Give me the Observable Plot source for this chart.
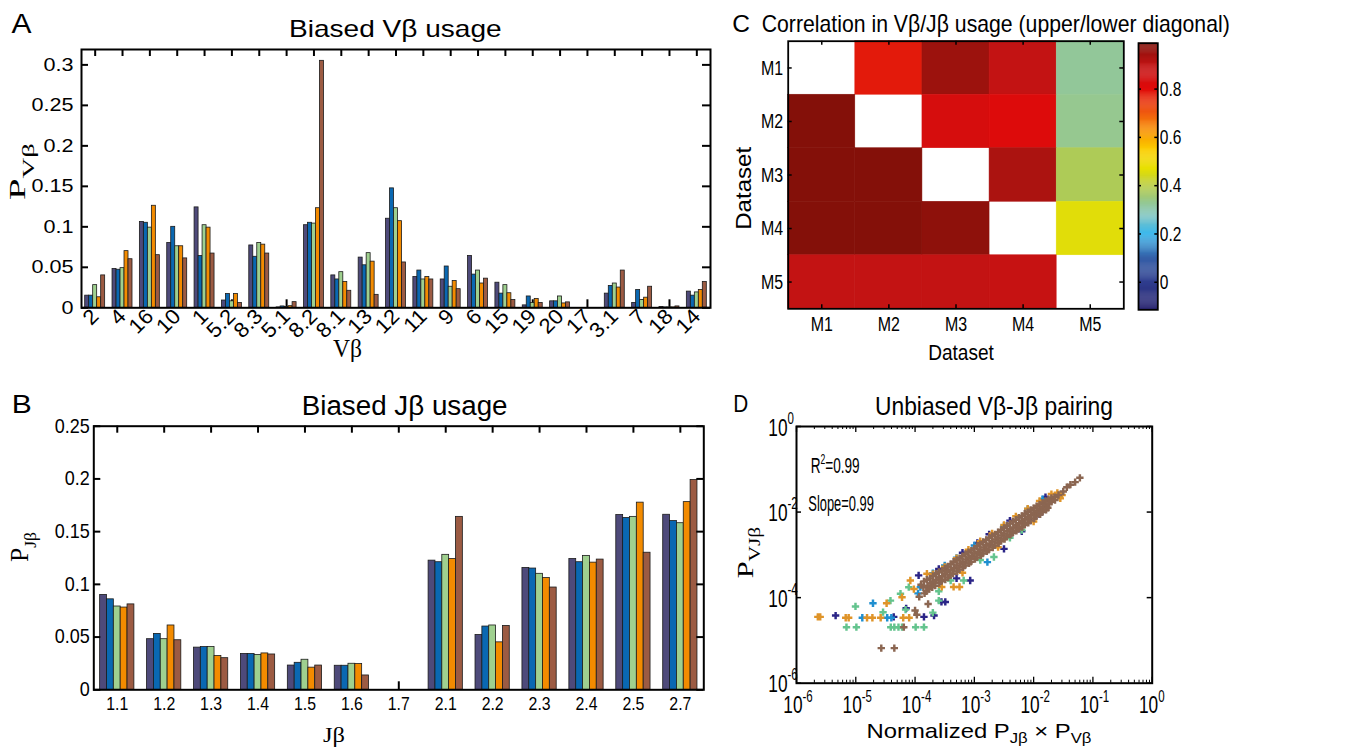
<!DOCTYPE html>
<html><head><meta charset="utf-8">
<script src="https://cdn.jsdelivr.net/npm/d3@7"></script>
<script src="https://cdn.jsdelivr.net/npm/@observablehq/plot@0.6"></script>
<style>
body{margin:0;background:#fff;}
#fig{position:relative;width:1361px;height:752px;overflow:hidden;background:#fff;}
#fig > svg{position:absolute;}
</style></head><body><div id="fig"></div>
<script>
// ---------------- DATA ----------------
const seriesNames = ["M1","M2","M3","M4","M5"];
const barColors = ["#4e4a7a","#0a68b2","#9fd08f","#f38b00","#9c5b43"];

// Panel A: V-beta usage
const vCats = ["2","4","16","10","1","5.2","8.3","5.1","8.2","8.1","13","12","11","9","6","15","19","20","17","3.1","7","18","14"];
const vM1 = [0.015,0.048,0.106,0.080,0.124,0.009,0.077,0.0005,0.102,0.040,0.062,0.110,0.038,0.035,0.064,0.031,0.003,0.008,0,0.0175,0.006,0.001,0.020];
const vM2 = [0.015,0.047,0.105,0.100,0.064,0.017,0.063,0.0017,0.105,0.035,0.0525,0.1475,0.046,0.051,0.041,0.0175,0.014,0.008,0,0.027,0.022,0.0005,0.015];
const vM3 = [0.028,0.049,0.099,0.076,0.102,0.008,0.080,0.001,0.104,0.044,0.0675,0.123,0.035,0.026,0.046,0.028,0.006,0.014,0,0.030,0.0096,0.0005,0.019];
const vM4 = [0.013,0.070,0.126,0.076,0.099,0.017,0.078,0.002,0.123,0.032,0.057,0.107,0.038,0.033,0.030,0.018,0.011,0.0054,0,0.025,0.0125,0.0005,0.022];
const vM5 = [0.040,0.060,0.065,0.061,0.067,0.006,0.067,0.007,0.305,0.021,0.016,0.056,0.035,0.023,0.036,0.0096,0.006,0.0067,0,0.046,0.026,0.0017,0.032];
const yTicksA = [0,0.05,0.1,0.15,0.2,0.25,0.3];

// Panel B: J-beta usage
const jCats = ["1.1","1.2","1.3","1.4","1.5","1.6","1.7","2.1","2.2","2.3","2.4","2.5","2.7"];
const jM1 = [0.090,0.048,0.040,0.034,0.023,0.0228,0,0.1225,0.052,0.1156,0.124,0.1657,0.166];
const jM2 = [0.0858,0.053,0.0405,0.034,0.0256,0.0228,0,0.121,0.060,0.115,0.121,0.163,0.160];
const jM3 = [0.079,0.048,0.0405,0.033,0.0285,0.0247,0,0.128,0.061,0.110,0.127,0.164,0.158];
const jM4 = [0.078,0.061,0.032,0.0345,0.021,0.0244,0,0.124,0.045,0.106,0.1206,0.1775,0.178];
const jM5 = [0.081,0.047,0.030,0.0335,0.023,0.0136,0,0.164,0.0606,0.097,0.1235,0.130,0.199];
const yTicksB = [0,0.05,0.1,0.15,0.2,0.25];

// Panel C: correlation matrix (rows top->bottom, cols left->right)
const datasets = ["M1","M2","M3","M4","M5"];
const corrM1 = [null,0.78,0.95,0.89,0.32];
const corrM2 = [0.985,null,0.83,0.81,0.33];
const corrM3 = [0.985,0.985,null,0.93,0.38];
const corrM4 = [0.985,0.985,0.97,null,0.46];
const corrM5 = [0.89,0.89,0.89,0.88,null];
const cbTicks = [0,0.2,0.4,0.6,0.8];
const cmapStops  = [-0.114,0,0.1,0.2,0.27,0.33,0.4,0.47,0.55,0.62,0.7,0.8,0.9,0.99];
const cmapColors = ["#27226e","#2f3d8e","#3560a8","#3bb8ec","#7cc4c4","#96c890","#b8cc40","#e8e000","#fbcc00","#f89600","#f05a10","#e00a0a","#c01414","#801008"];

// Panel D: log10(normalized PJ x PV), log10(PVJ)
const dM1 = [[-5.34,-4.42],[-4.36,-4.45],[-4.15,-4.25],[-3.94,-3.48],[-3.85,-4.45],[-3.68,-4.42],[-3.555,-4.1],[-3.49,-4.1],[-3.07,-3.6],[-2.5,-2.86],[-2.05,-2.2],[-3.6,-3.33],[-3.2,-2.95],[-2.95,-2.72],[-2.75,-2.52],[-2.4,-2.2],[-2.2,-2.45],[-3.3,-3.55],[-1.9,-2.05],[-1.8,-1.65]];
const dM2 = [[-4.89,-4.47],[-4.71,-4.13],[-4.47,-4.47],[-4.4,-4.47],[-3.91,-3.755],[-3.95,-3.9],[-2.78,-3.17],[-3.5,-3.25],[-3.3,-3.07],[-3.0,-2.78],[-2.5,-2.32],[-2.1,-1.93],[-1.85,-1.7],[-3.7,-3.43]];
const dM3 = [[-5.157,-4.69],[-5.005,-4.205],[-4.99,-4.69],[-4.54,-4.34],[-4.415,-4.07],[-4.41,-4.69],[-4.35,-4.69],[-4.28,-4.69],[-4.22,-4.69],[-4.246,-3.91],[-4.16,-4.28],[-4.106,-3.755],[-3.99,-4.69],[-3.85,-4.69],[-3.6,-4.07],[-3.18,-3.6],[-2.67,-3.05],[-3.4,-3.6],[-2.9,-3.12],[-2.4,-2.6],[-2.2,-2.42],[-3.6,-3.85],[-3.7,-4.35]];
const dM4 = [[-5.64,-4.45],[-5.6,-4.45],[-5.17,-4.47],[-5.12,-4.47],[-4.81,-4.47],[-4.72,-4.47],[-4.58,-4.47],[-4.48,-4.13],[-4.22,-3.99],[-4.2,-4.47],[-4.1,-4.47],[-4.08,-3.6],[-4.02,-3.8],[-3.8,-3.44],[-3.35,-3.75],[-3.25,-3.75],
  [-3.7,-3.45],[-3.5,-3.28],[-3.3,-3.08],[-3.1,-2.88],[-2.9,-2.68],[-2.7,-2.5],[-2.5,-2.3],[-2.3,-2.1],[-2.1,-1.92],[-1.9,-1.74],[-1.7,-1.58],[-1.6,-1.55],[-1.52,-1.6],[-1.55,-1.68],[-3.2,-3.42],[-2.6,-2.82],[-2.0,-2.22],[-3.55,-3.75]];
const dM5 = [[-4.57,-5.18],[-4.35,-5.18],[-4.19,-4.69],[-4.0,-4.3],[-3.93,-3.98],[-3.97,-4.4],[-3.78,-4.15],[-3.9,-3.7],
  [-3.85,-3.62],[-3.86,-3.76],[-3.84,-3.9],[-3.8,-3.58],[-3.79,-3.72],[-3.81,-3.85],[-3.75,-3.55],[-3.74,-3.67],[-3.76,-3.8],
  [-3.7,-3.5],[-3.7,-3.63],[-3.71,-3.76],[-3.65,-3.44],[-3.64,-3.58],[-3.66,-3.72],[-3.6,-3.4],[-3.6,-3.53],[-3.59,-3.66],
  [-3.55,-3.37],[-3.54,-3.5],[-3.56,-3.62],[-3.5,-3.32],[-3.5,-3.45],[-3.49,-3.58],[-3.45,-3.27],[-3.46,-3.4],[-3.44,-3.53],
  [-3.4,-3.22],[-3.4,-3.35],[-3.41,-3.48],[-3.35,-3.16],[-3.34,-3.3],[-3.36,-3.44],[-3.3,-3.12],[-3.3,-3.25],[-3.29,-3.39],
  [-3.25,-3.08],[-3.24,-3.2],[-3.26,-3.34],[-3.2,-3.03],[-3.2,-3.16],[-3.19,-3.29],[-3.15,-2.98],[-3.14,-3.11],[-3.16,-3.25],
  [-3.1,-2.94],[-3.1,-3.07],[-3.09,-3.2],[-3.05,-2.9],[-3.04,-3.02],[-3.06,-3.16],[-3.0,-2.85],[-3.0,-2.97],[-2.99,-3.1],
  [-2.95,-2.8],[-2.94,-2.93],[-2.96,-3.06],[-2.9,-2.75],[-2.9,-2.88],[-2.89,-3.01],[-2.85,-2.7],[-2.84,-2.83],[-2.86,-2.97],
  [-2.8,-2.65],[-2.8,-2.78],[-2.79,-2.92],[-2.75,-2.6],[-2.74,-2.74],[-2.76,-2.88],[-2.7,-2.56],[-2.7,-2.69],[-2.69,-2.83],
  [-2.65,-2.52],[-2.64,-2.64],[-2.66,-2.78],[-2.6,-2.47],[-2.6,-2.6],[-2.59,-2.73],[-2.55,-2.42],[-2.54,-2.55],[-2.56,-2.68],
  [-2.5,-2.37],[-2.5,-2.5],[-2.49,-2.63],[-2.45,-2.32],[-2.44,-2.45],[-2.46,-2.58],[-2.4,-2.27],[-2.4,-2.4],[-2.39,-2.53],
  [-2.35,-2.22],[-2.34,-2.36],[-2.36,-2.49],[-2.3,-2.18],[-2.3,-2.31],[-2.29,-2.44],[-2.25,-2.13],[-2.24,-2.26],[-2.26,-2.4],
  [-2.2,-2.09],[-2.2,-2.21],[-2.19,-2.35],[-2.15,-2.04],[-2.14,-2.16],[-2.16,-2.3],[-2.1,-2.0],[-2.1,-2.12],[-2.09,-2.25],
  [-2.05,-1.95],[-2.04,-2.07],[-2.06,-2.2],[-2.0,-1.91],[-2.0,-2.02],[-1.99,-2.15],[-1.95,-1.86],[-1.94,-1.97],[-1.96,-2.1],
  [-1.9,-1.82],[-1.9,-1.93],[-1.89,-2.05],[-1.85,-1.78],[-1.84,-1.88],[-1.86,-2.0],[-1.8,-1.74],[-1.8,-1.84],[-1.79,-1.95],
  [-1.75,-1.7],[-1.74,-1.8],[-1.76,-1.9],[-1.7,-1.67],[-1.7,-1.76],[-1.65,-1.65],[-1.64,-1.72],
  [-1.58,-1.6],[-1.5,-1.52],[-1.44,-1.42],[-1.38,-1.36],[-1.3,-1.3],[-1.22,-1.2]];
const dColors = ["#2b2587","#1f8fd0","#64c48e","#df9429","#8b6651"];
const dXExp = [-6,-5,-4,-3,-2,-1,0];
const dYExp = [-6,-4,-2,0];

// ---------------- HELPERS ----------------
const fig = document.getElementById("fig");
const SANS = "'Liberation Sans', Arial, sans-serif";
const SERIF = "'Liberation Serif', 'Times New Roman', serif";
const baseStyle = {background:"transparent", color:"black", fontFamily:SANS, fontSize:"17px", overflow:"visible"};
function place(svg, left, top) { svg.style.left = left + "px"; svg.style.top = top + "px"; fig.appendChild(svg); return svg; }
function condense(svg, sel, sx) {
  svg.querySelectorAll(sel).forEach(t => {
    const tr = t.getAttribute("transform") || "";
    t.setAttribute("transform", tr + ` scale(${sx},1)`);
  });
}
const tbl = (arrs, cats) => arrs.map((arr, s) => cats.map((c, i) => ({cat: c, v: arr[i], s: seriesNames[s]})));

// ---------------- PANEL A ----------------
{
  const W = 720, H = 375, mL = 81, mR = 10, mT = 49, mB = 67.7;
  const iW = W - mL - mR, iH = H - mT - mB, pad = 0.27;
  const bw = iW / vCats.length * (1 - pad) / 5;
  const rows = tbl([vM1, vM2, vM3, vM4, vM5], vCats);
  const svg = Plot.plot({
    width: W, height: H, marginLeft: mL, marginRight: mR, marginTop: mT, marginBottom: mB, style: baseStyle,
    x: {type: "band", domain: vCats, paddingInner: pad, paddingOuter: pad / 2, round: false, label: null},
    y: {domain: [0, 0.319], label: null},
    marks: [
      Plot.tickX(vCats, {x: d => d, insetTop: iH - 8, strokeWidth: 2}),
      ...rows.map((r, s) => Plot.barY(r, {x: "cat", y: "v", fill: barColors[s], stroke: "#1b1b1b", strokeWidth: 0.8, insetLeft: s * bw, insetRight: (4 - s) * bw})),
      Plot.tickX(vCats, {x: d => d, insetBottom: iH - 7, strokeWidth: 2}),
      Plot.tickY(yTicksA, {y: d => d, insetRight: iW - 7, strokeWidth: 2}),
      Plot.tickY(yTicksA, {y: d => d, insetLeft: iW - 8, strokeWidth: 2}),
      Plot.frame({stroke: "black", strokeWidth: 2}),
      Plot.axisY({ticks: yTicksA, tickFormat: d => String(d), tickSize: 0, tickPadding: 8, fontSize: 18, label: null}),
      Plot.axisX({tickSize: 0, tickPadding: 5, tickRotate: -45, fontSize: 21, label: null})
    ]
  });
  condense(svg, 'g[aria-label="y-axis tick label"] text', 1.2);
  condense(svg, 'g[aria-label="x-axis tick label"] text', 1.05);
  place(svg, 0, 0);
}

// ---------------- PANEL B ----------------
{
  const W = 720, H = 372, mL = 93.3, mR = 16.7, mT = 45.7, mB = 62.7;
  const iW = W - mL - mR, iH = H - mT - mB, pad = 0.27;
  const bw = iW / jCats.length * (1 - pad) / 5;
  const rows = tbl([jM1, jM2, jM3, jM4, jM5], jCats);
  const svg = Plot.plot({
    width: W, height: H, marginLeft: mL, marginRight: mR, marginTop: mT, marginBottom: mB, style: baseStyle,
    x: {type: "band", domain: jCats, paddingInner: pad, paddingOuter: pad / 2, round: false, label: null},
    y: {domain: [0, 0.25], label: null},
    marks: [
      Plot.tickX(jCats, {x: d => d, insetTop: iH - 8, strokeWidth: 2}),
      ...rows.map((r, s) => Plot.barY(r, {x: "cat", y: "v", fill: barColors[s], stroke: "#1b1b1b", strokeWidth: 0.8, insetLeft: s * bw, insetRight: (4 - s) * bw})),
      Plot.tickX(jCats, {x: d => d, insetBottom: iH - 7, strokeWidth: 2}),
      Plot.tickY(yTicksB, {y: d => d, insetRight: iW - 7, strokeWidth: 2}),
      Plot.tickY(yTicksB, {y: d => d, insetLeft: iW - 7, strokeWidth: 2}),
      Plot.frame({stroke: "black", strokeWidth: 2}),
      Plot.axisY({ticks: yTicksB, tickFormat: d => String(d), tickSize: 0, tickPadding: 4, fontSize: 20, label: null}),
      Plot.axisX({tickSize: 0, tickPadding: 7, fontSize: 18, label: null})
    ]
  });
  condense(svg, 'g[aria-label="y-axis tick label"] text', 0.9);
  condense(svg, 'g[aria-label="x-axis tick label"] text', 0.88);
  place(svg, 0, 380);
}

// ---------------- PANEL C ----------------
const colorScale = {type: "linear", domain: cmapStops, range: cmapColors, interpolate: "rgb", clamp: true};
{
  const W = 420, H = 375, mL = 67.7, mR = 16.7, mT = 40.7, mB = 66.7;
  const iW = W - mL - mR, iH = H - mT - mB;
  const corr = [corrM1, corrM2, corrM3, corrM4, corrM5];
  const cells = [];
  datasets.forEach((r, i) => datasets.forEach((c, j) => { if (corr[i][j] != null) cells.push({row: r, col: c, v: corr[i][j]}); }));
  const svg = Plot.plot({
    width: W, height: H, marginLeft: mL, marginRight: mR, marginTop: mT, marginBottom: mB, style: baseStyle,
    x: {type: "band", domain: datasets, padding: 0, round: false, label: null},
    y: {type: "band", domain: datasets, padding: 0, round: false, label: null},
    color: colorScale,
    marks: [
      Plot.cell(cells, {x: "col", y: "row", fill: "v", stroke: "v", strokeWidth: 0.5, inset: 0}),
      Plot.tickX(datasets, {x: d => d, insetTop: iH - 4, strokeWidth: 1.5}),
      Plot.tickX(datasets, {x: d => d, insetBottom: iH - 4, strokeWidth: 1.5}),
      Plot.tickY(datasets, {y: d => d, insetRight: iW - 4, strokeWidth: 1.5}),
      Plot.tickY(datasets, {y: d => d, insetLeft: iW - 4, strokeWidth: 1.5}),
      Plot.frame({stroke: "black", strokeWidth: 1.8}),
      Plot.axisY({tickSize: 0, tickPadding: 5, fontSize: 21, label: null}),
      Plot.axisX({tickSize: 0, tickPadding: 7, fontSize: 21, label: null})
    ]
  });
  condense(svg, 'g[aria-label$="tick label"] text', 0.76);
  place(svg, 720, 0);
}

// ---------------- COLORBAR ----------------
{
  const W = 231, H = 375, mL = 8, mR = 203.7, mT = 42.7, mB = 65.7;
  const iW = W - mL - mR;
  const lo = cmapStops[0], hi = cmapStops[cmapStops.length - 1], st = 0.004;
  const steps = d3.range(lo, hi, st);
  const svg = Plot.plot({
    width: W, height: H, marginLeft: mL, marginRight: mR, marginTop: mT, marginBottom: mB, style: baseStyle,
    y: {domain: [lo, hi], label: null},
    color: colorScale,
    marks: [
      Plot.rect(steps, {y1: d => d, y2: d => Math.min(hi, d + st * 1.3), fill: d => d + st / 2}),
      Plot.tickY(cbTicks, {y: d => d, insetRight: iW - 3, strokeWidth: 1.5}),
      Plot.tickY(cbTicks, {y: d => d, insetLeft: iW - 3, strokeWidth: 1.5}),
      Plot.frame({stroke: "black", strokeWidth: 1.8}),
      Plot.axisY({anchor: "right", ticks: cbTicks, tickFormat: d => String(d), tickSize: 0, tickPadding: 2, fontSize: 21, label: null})
    ]
  });
  condense(svg, 'g[aria-label="y-axis tick label"] text', 0.74);
  place(svg, 1130, 0);
}

// ---------------- PANEL D ----------------
{
  const W = 641, H = 372, mL = 76, mR = 209.3, mT = 46, mB = 69.3;
  const iW = W - mL - mR, iH = H - mT - mB;
  const majorX = dXExp.map(e => 10 ** e);
  const minorX = [];
  for (let e = -6; e < 0; e++) for (let k = 2; k <= 9; k++) minorX.push(k * 10 ** e);
  const majorY = dYExp.map(e => 10 ** e);
  const series = [dM1, dM2, dM3, dM4, dM5];
  const svg = Plot.plot({
    width: W, height: H, marginLeft: mL, marginRight: mR, marginTop: mT, marginBottom: mB, style: baseStyle,
    x: {type: "log", domain: [1e-6, 1], label: null, axis: null},
    y: {type: "log", domain: [1e-6, 1], label: null, axis: null},
    marks: [
      ...series.map((pts, s) => Plot.dot(pts.map(([a, b]) => ({x: 10 ** a, y: 10 ** b})), {x: "x", y: "y", symbol: "cross", r: 3.1, fill: dColors[s], stroke: "none"})),
      Plot.tickX(majorX, {x: d => d, insetTop: iH - 6, strokeWidth: 1.3}),
      Plot.tickX(majorX, {x: d => d, insetBottom: iH - 6, strokeWidth: 1.3}),
      Plot.tickX(minorX, {x: d => d, insetTop: iH - 3, strokeWidth: 1}),
      Plot.tickX(minorX, {x: d => d, insetBottom: iH - 3, strokeWidth: 1}),
      Plot.tickY(majorY, {y: d => d, insetRight: iW - 5, strokeWidth: 1.5}),
      Plot.tickY(majorY, {y: d => d, insetLeft: iW - 5, strokeWidth: 1.5}),
      Plot.frame({stroke: "black", strokeWidth: 2}),
      Plot.text(dXExp, {x: e => 10 ** e, frameAnchor: "bottom", text: () => "10", textAnchor: "end", lineAnchor: "bottom", dx: 6, dy: 30, fontSize: 24}),
      Plot.text(dXExp, {x: e => 10 ** e, frameAnchor: "bottom", text: e => String(e), textAnchor: "start", lineAnchor: "bottom", dx: 6, dy: 19, fontSize: 16}),
      Plot.text(dYExp, {y: e => 10 ** e, frameAnchor: "left", text: () => "10", textAnchor: "end", lineAnchor: "bottom", dx: -9, dy: 9, fontSize: 24}),
      Plot.text(dYExp, {y: e => 10 ** e, frameAnchor: "left", text: e => String(e), textAnchor: "start", lineAnchor: "bottom", dx: -9, dy: -3, fontSize: 16})
    ]
  });
  condense(svg, 'g[aria-label="text"] text', 0.72);
  place(svg, 720, 380);
}

// ---------------- OVERLAY TEXT (titles, labels) ----------------
const ov = d3.select(fig).append("svg").attr("width", 1361).attr("height", 752)
  .style("left", "0px").style("top", "0px").style("pointer-events", "none");
function label({x, y, text, parts, size = 20, family = SANS, anchor = "start", rotate = 0, width}) {
  const t = ov.append("text").attr("text-anchor", anchor).attr("font-family", family).attr("font-size", size).attr("fill", "black");
  (parts || [{t: text}]).forEach(p => t.append("tspan").attr("font-size", p.size || size).attr("dy", p.dy || 0).text(p.t));
  let sx = 1;
  if (width) { const w = t.node().getComputedTextLength(); if (w > 0) sx = width / w; }
  t.attr("transform", `translate(${x},${y}) rotate(${rotate}) scale(${sx},1)`);
}
// Panel A
label({x: 11.5, y: 33, text: "A", size: 28, width: 20});
label({x: 289, y: 36.7, text: "Biased Vβ usage", size: 23, width: 212.7});
label({x: 347.5, y: 357, text: "Vβ", size: 25, family: SERIF, anchor: "middle", width: 29});
label({x: 25, y: 200, rotate: -90, family: SERIF, parts: [{t: "P", size: 23}, {t: "Vβ", size: 17, dy: 9}], width: 57});
// Panel B
label({x: 11.7, y: 413.3, text: "B", size: 26, width: 20});
label({x: 301.7, y: 415, text: "Biased Jβ usage", size: 28, width: 206});
label({x: 334, y: 742, text: "Jβ", size: 22, family: SERIF, anchor: "middle", width: 22});
label({x: 28.3, y: 562, rotate: -90, family: SERIF, parts: [{t: "P", size: 25}, {t: "Jβ", size: 17, dy: 8}], width: 30});
// Panel C
label({x: 732.3, y: 31.7, text: "C", size: 23, width: 17.7});
label({x: 761.7, y: 31.7, text: "Correlation in Vβ/Jβ usage (upper/lower diagonal)", size: 23, width: 468.3});
label({x: 961, y: 360, text: "Dataset", size: 22, anchor: "middle", width: 65.7});
label({x: 750.5, y: 188.3, text: "Dataset", size: 22, anchor: "middle", rotate: -90, width: 83});
// Panel D
label({x: 733.3, y: 411.7, text: "D", size: 23, width: 15});
label({x: 875, y: 415, text: "Unbiased Vβ-Jβ pairing", size: 25, width: 238});
label({x: 979, y: 738, anchor: "middle", parts: [{t: "Normalized P", size: 20}, {t: "Jβ", size: 14, dy: 5}, {t: " × P", size: 20, dy: -5}, {t: "Vβ", size: 14, dy: 5}], width: 225});
label({x: 753, y: 578.3, rotate: -90, family: SERIF, parts: [{t: "P", size: 24}, {t: "VJβ", size: 17, dy: 7}], width: 51.6});
label({x: 810.7, y: 473.3, parts: [{t: "R", size: 22}, {t: "2", size: 14, dy: -9}, {t: "=0.99", size: 22, dy: 9}], width: 49});
label({x: 808.3, y: 511, text: "Slope=0.99", size: 22, width: 65.7});
</script></body></html>
